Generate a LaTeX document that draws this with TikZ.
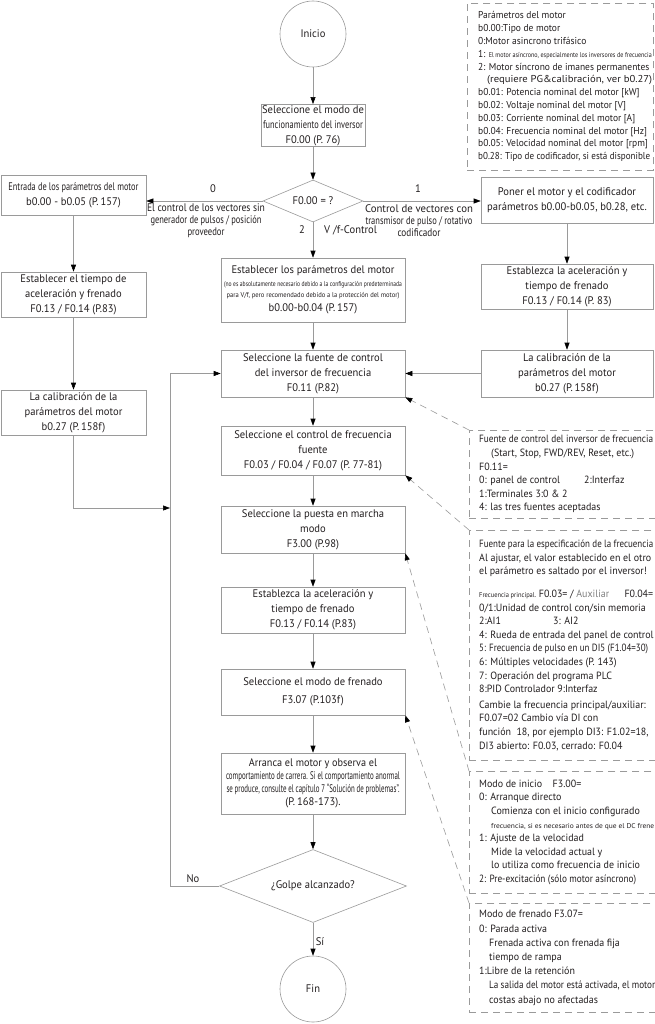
\documentclass[tikz,border=0pt]{standalone}
\usepackage{fontspec}
\setmainfont{PT Sans}[FakeStretch=0.96]
\newfontfamily\notefam{PT Sans}[FakeStretch=0.95]
\usetikzlibrary{arrows.meta,shapes.geometric}
\newcommand\fitw[2]{\resizebox{#1}{\height}{#2}}
\newcommand\mainf{\fontsize{11}{15}\selectfont}
\newcommand\notef{\notefam\fontsize{10.5}{13.6}\selectfont}
\newcommand\notetrf{\notefam\fontsize{10}{12.8}\selectfont}
\newcommand\tinyf{\fontsize{7}{9}\selectfont}
\definecolor{ink}{HTML}{231F20}
\definecolor{edge}{HTML}{9A9A9A}
\begin{document}
\begin{tikzpicture}[x=1pt,y=-1pt,
  every node/.style={text=ink},
  line/.style={draw=edge, line width=0.6pt},
  arr/.style={line, -{Triangle[length=7pt,width=5pt,color=black]}},
  darr/.style={draw=edge, line width=0.6pt, dash pattern=on 7pt off 5pt, -{Triangle[length=7pt,width=5pt,color=black]}},
  box/.style={draw=edge, line width=0.6pt, rectangle, align=center, inner sep=1pt, font=\mainf},
  cbox/.style={box, minimum width=184pt},
  lbox/.style={box, minimum width=145pt},
  rbox/.style={box, minimum width=172pt},
  term/.style={draw=edge, line width=0.6pt, circle, minimum size=66pt, inner sep=0pt, font=\mainf},
  dec/.style={draw=edge, line width=0.6pt, diamond, inner sep=0pt, aspect=2.4, font=\mainf},
  note/.style={draw=edge, line width=0.6pt, dash pattern=on 7pt off 5pt, anchor=north west, inner sep=0pt, minimum width=186pt},
  ntext/.style={anchor=west, align=left, inner sep=0pt, font=\notef},
  lab/.style={font=\mainf, inner sep=0pt},
  slab/.style={font=\mainf, inner sep=0pt, align=center}
]
\useasboundingbox[fill=white] (0,0) rectangle (655,1024);

% main column
\node[term] (start) at (313,34) {Inicio};
\node[box, minimum width=104pt, minimum height=39pt] (b1) at (313,125.5)
  {Seleccione el modo de\\\fitw{100pt}{funcionamiento del inversor}\\F0.00 (P. 76)};
\node[dec, minimum width=100pt, minimum height=42pt] (dia1) at (313,201) {F0.00 = ?};
\node[cbox, minimum height=64pt] (c1) at (313,290)
  {Establecer los parámetros del motor\\[-2pt]
   {\tinyf\fitw{178pt}{(no es absolutamente necesario debido a la configuración predeterminada}}\\[-4pt]
   {\tinyf\fitw{173pt}{para V/f, pero recomendado debido a la protección del motor)}}\\[-1pt]
   b0.00-b0.04 (P.\,157)};
\node[cbox, minimum height=47pt] (c2) at (313,373.5)
  {Seleccione la fuente de control\\del inversor de frecuencia\\F0.11 (P.82)};
\node[cbox, minimum height=49pt] (c3) at (313,450.5)
  {Seleccione el control de frecuencia\\fuente\\F0.03 / F0.04 / F0.07 (P. 77-81)};
\node[cbox, minimum height=47pt] (c4) at (313,529.5)
  {Seleccione la puesta en marcha\\modo\\F3.00 (P.98)};
\node[cbox, minimum height=46pt] (c5) at (313,610)
  {Establezca la aceleración y\\tiempo de frenado\\F0.13 / F0.14 (P.83)};
\node[cbox, minimum height=46pt] (c6) at (313,692)
  {Seleccione el modo de frenado\\[3pt]F3.07 (P.103f)};
\node[cbox, minimum height=61pt] (c7) at (313,783.5)
  {\fitw{128pt}{Arranca el motor y observa el}\\[-2pt]
   \fitw{174pt}{comportamiento de carrera. Si el comportamiento anormal}\\[-2pt]
   \fitw{173pt}{se produce, consulte el capítulo 7 ``Solución de problemas''.}\\[-2pt]
   (P.\,168-173).};
\node[dec, minimum width=187pt, minimum height=73pt] (dia2) at (313,886) {¿Golpe alcanzado?};
\node[term] (fin) at (313,989) {Fin};

% left column
\node[lbox, minimum height=40pt] (l1) at (73.5,195)
  {\fitw{130pt}{Entrada de los parámetros del motor}\\b0.00 - b0.05 (P.\,157)};
\node[lbox, minimum height=45pt] (l2) at (73.5,294.5)
  {Establecer el tiempo de\\aceleración y frenado\\F0.13 / F0.14 (P.83)};
\node[lbox, minimum height=45pt] (l3) at (73.5,412.5)
  {La calibración de la\\parámetros del motor\\b0.27 (P.\,158f)};

% right column
\node[rbox, minimum height=46pt] (r1) at (567,200)
  {Poner el motor y el codificador\\parámetros b0.00-b0.05, b0.28, etc.};
\node[rbox, minimum height=45pt] (r2) at (567,286.5)
  {Establezca la aceleración y\\tiempo de frenado\\F0.13 / F0.14 (P. 83)};
\node[rbox, minimum height=47pt] (r3) at (567,373.5)
  {La calibración de la\\parámetros del motor\\b0.27 (P.\,158f)};

% branch labels
\node[lab] (t0) at (213,189) {0};
\node[lab] (t1) at (418,189) {1};
\node[slab] (tl) at (206,221)
  {\fitw{118pt}{El control de los vectores sin}\\[-3pt]\fitw{111pt}{generador de pulsos / posición}\\[-3pt]\fitw{37pt}{proveedor}};
\node[slab] (tr) at (419,221)
  {\fitw{108pt}{Control de vectores con}\\[-3pt]\fitw{107pt}{transmisor de pulso / rotativo}\\[-3pt]\fitw{43pt}{codificador}};
\node[lab] (t2) at (302,230) {2};
\node[lab, anchor=west] (tv) at (324,230) {V /f-Control};
\node[lab] (tno) at (193,879) {No};
\node[lab] (tsi) at (320,942) {Sí};

% notes: frames
\node[note, minimum height=167pt] (nTR) at (467,3) {};
\node[note, minimum height=88pt] (n2) at (469,430) {};
\node[note, minimum height=230pt] (n3) at (469,530) {};
\node[note, minimum height=122pt] (n4) at (469,771) {};
\node[note, minimum height=109pt] (n5) at (469,903) {};

% notes: texts
\node[ntext, font=\notetrf] (nTRt) at ([xshift=11pt]nTR.west)
  {Parámetros del motor\\
   b0.00:Tipo de motor\\
   0:Motor asincrono trifásico\\
   1: {\tinyf\fitw{163pt}{El motor asíncrono, especialmente los inversores de frecuencia}}\\
   2: Motor síncrono de imanes permanentes\\
   \hspace*{9pt}\fitw{165pt}{(requiere PG\&calibración, ver b0.27)}\\
   b0.01: Potencia nominal del motor [kW]\\
   b0.02: Voltaje nominal del motor [V]\\
   b0.03: Corriente nominal del motor [A]\\
   b0.04: Frecuencia nominal del motor [Hz]\\
   b0.05: Velocidad nominal del motor [rpm]\\
   \fitw{172pt}{b0.28: Tipo de codificador, si está disponible}};
\node[ntext] (n2t) at ([xshift=10pt]n2.west)
  {\fitw{174pt}{Fuente de control del inversor de frecuencia}\\
   \hspace*{12pt}(Start, Stop, FWD/REV, Reset, etc.)\\
   F0.11=\\
   \makebox[105pt][l]{0: panel de control}2:Interfaz\\
   1:Terminales 3:0 \& 2\\
   4: las tres fuentes aceptadas};
\node[ntext] (n3t) at ([xshift=10pt]n3.west)
  {\fitw{174pt}{Fuente para la especificación de la frecuencia}\\
   Al ajustar, el valor establecido en el otro\\
   el parámetro es saltado por el inversor!\\[9pt]
   \makebox[174pt][l]{{\tinyf\fitw{57pt}{Frecuencia principal.}} F0.03= / {\color{gray}Auxiliar}\hfill F0.04=}\\
   0/1:Unidad de control con/sin memoria\\
   \makebox[74pt][l]{2:AI1}3: AI2\\
   4: Rueda de entrada del panel de control\\
   \fitw{169pt}{5: Frecuencia de pulso en un DI5 (F1.04=30)}\\
   6: Múltiples velocidades (P. 143)\\
   7: Operación del programa PLC\\
   8:PID Controlador 9:Interfaz\\[2pt]
   Cambie la frecuencia principal/auxiliar:\\
   F0.07=02 Cambio vía DI con\\
   función\ \ 18, por ejemplo DI3: F1.02=18,\\
   DI3 abierto: F0.03, cerrado: F0.04};
\node[ntext] (n4t) at ([xshift=10pt]n4.west)
  {Modo de inicio\quad F3.00=\\
   0: Arranque directo\\
   \hspace*{12pt}Comienza con el inicio configurado\\
   \hspace*{12pt}{\tinyf\fitw{163pt}{frecuencia, si es necesario antes de que el DC frene}}\\
   1: Ajuste de la velocidad\\
   \hspace*{12pt}Mide la velocidad actual y\\
   \hspace*{12pt}lo utiliza como frecuencia de inicio\\
   \fitw{157pt}{2: Pre-excitación (sólo motor asíncrono)}};
\node[ntext, font=\notefam\fontsize{10.5}{14.2}\selectfont] (n5t) at ([xshift=10pt]n5.west)
  {Modo de frenado F3.07=\\
   0: Parada activa\\
   \hspace*{10pt}Frenada activa con frenada fija\\
   \hspace*{10pt}tiempo de rampa\\
   1:Libre de la retención\\
   \hspace*{10pt}\fitw{166pt}{La salida del motor está activada, el motor}\\
   \hspace*{10pt}costas abajo no afectadas};

% helper coordinates
\coordinate (jl) at (170,508);
\coordinate (fb) at (170,886);

% connectors
\draw[arr] (start) -- (b1);
\draw[arr] (b1) -- (dia1);
\draw[arr] (dia1.west) -- (dia1.west -| l1.east);
\draw[arr] (dia1.east) -- (dia1.east -| r1.west);
\draw[arr] (dia1) -- (c1);
\draw[arr] (c1) -- (c2);
\draw[arr] (c2) -- (c3);
\draw[arr] (c3) -- (c4);
\draw[arr] (c4) -- (c5);
\draw[arr] (c5) -- (c6);
\draw[arr] (c6) -- (c7);
\draw[arr] (c7) -- (dia2);
\draw[arr] (dia2) -- (fin);
\draw[arr] (l1) -- (l2);
\draw[arr] (l2) -- (l3);
\draw[arr] (l3.south) |- (jl);
\draw[arr] (r1) -- (r2);
\draw[arr] (r2) -- (r3);
\draw[arr] (r3.west) -- (c2.east);
\draw[arr] (dia2.west) -- (fb) |- (c2.west);
\draw[darr] (n2.north west) -- (c2.south east);
\draw[darr] (n3.north west) -- (c3.south east);
\draw[darr] (n4.north west) -- (c4.south east);
\draw[darr] (n5.north west) -- (c6.south east);
\end{tikzpicture}
\end{document}
